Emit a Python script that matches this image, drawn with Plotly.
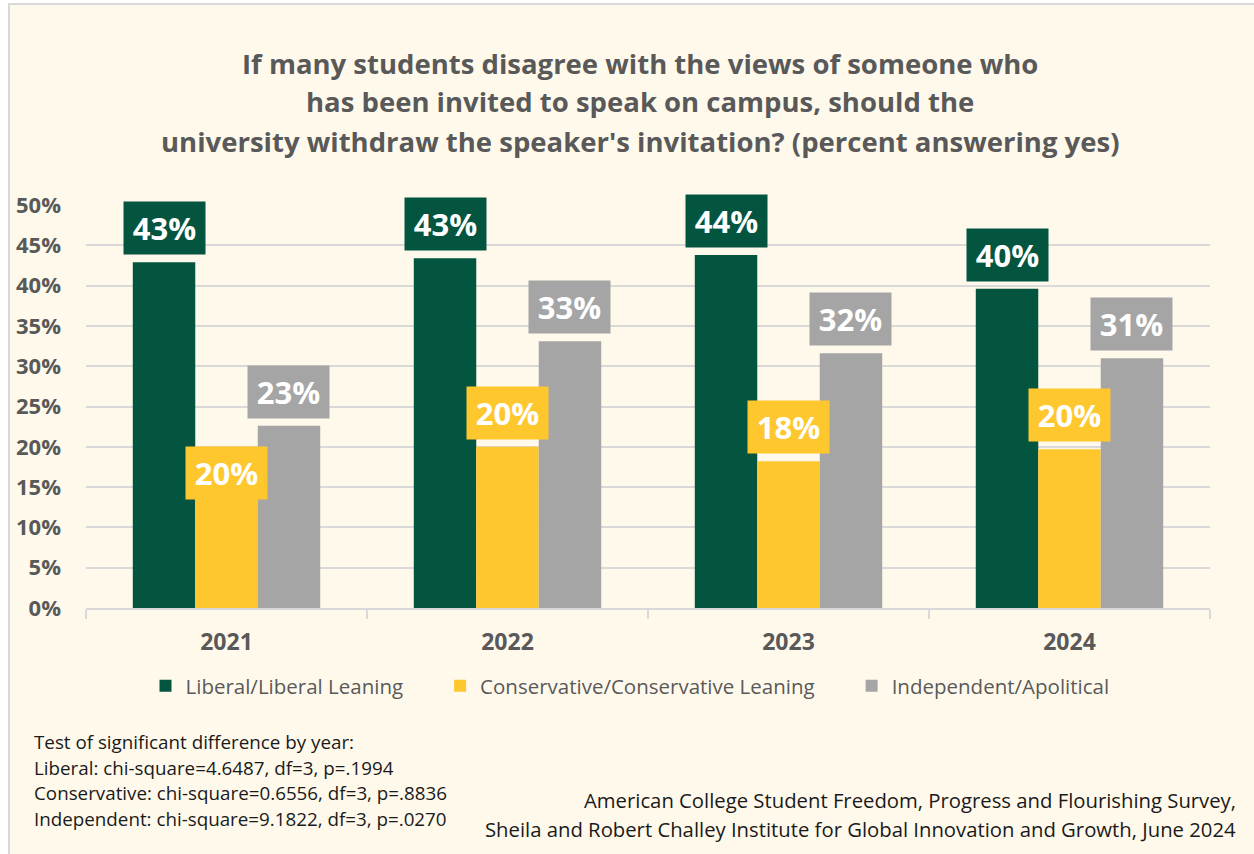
import plotly.graph_objects as go

# Survey results: percent answering "yes", by political identification
years = ["2021", "2022", "2023", "2024"]
liberal = [42.9, 43.4, 43.8, 39.6]
conservative = [20.0, 20.0, 18.2, 19.7]
independent = [22.6, 33.1, 31.6, 31.0]

series_names = [
    "Liberal/Liberal Leaning",
    "Conservative/Conservative Leaning",
    "Independent/Apolitical",
]
series_values = [liberal, conservative, independent]
series_colors = ["#04553F", "#FFC72E", "#A5A5A5"]

title_lines = [
    "If many students disagree with the views of someone who",
    "has been invited to speak on campus, should the",
    "university withdraw the speaker's invitation? (percent answering yes)",
]
note_lines = [
    "Test of significant difference by year:",
    "Liberal: chi-square=4.6487, df=3, p=.1994",
    "Conservative: chi-square=0.6556, df=3, p=.8836",
    "Independent: chi-square=9.1822, df=3, p=.0270",
]
source_lines = [
    "American College Student Freedom, Progress and Flourishing Survey,",
    "Sheila and Robert Challey Institute for Global Innovation and Growth, June 2024",
]

# ---- layout geometry (pixels) ----
W, H = 1254, 854
L, R, T, B = 86, 44, 205, 246
PW, PH = W - L - R, H - T - B
BG = "#FFF9EC"
GRID = "#D9D9D9"
TXT = "#595959"
FONT = "Open Sans"


def px_x(p):
    return (p - L) / PW


def px_y(p):
    return (H - B - p) / PH


BARGAP = 0.333
bar_w = (1 - BARGAP) / len(series_names)

fig = go.Figure()
for name, vals, col in zip(series_names, series_values, series_colors):
    fig.add_trace(go.Bar(
        x=years, y=vals, name=name + "\u00a0" * 6,
        marker=dict(color=col, line=dict(width=0)),
        hoverinfo="skip",
    ))

annotations = []

# value boxes above each bar; one sits over the top of its bar
inside_top = {("2021", 1)}
for si, (vals, col) in enumerate(zip(series_values, series_colors)):
    offset = (si - 1) * bar_w
    for ci, (yr, v) in enumerate(zip(years, vals)):
        inside = (yr, si) in inside_top
        annotations.append(dict(
            x=ci + offset, y=v, xref="x", yref="y",
            text=f"<b>{v:.0f}%</b>", showarrow=False,
            font=dict(family=FONT, size=31, color="white"),
            bgcolor=col, borderpad=5, width=71,
            xanchor="center",
            yanchor="top" if inside else "bottom",
            yshift=1 if inside else 7,
        ))

# title
for i, line in enumerate(title_lines):
    annotations.append(dict(
        x=px_x(640), y=px_y(63 + 39 * i), xref="paper", yref="paper",
        text=f"<b>{line}</b>", showarrow=False,
        font=dict(family=FONT, size=27.5, color=TXT),
        xanchor="center", yanchor="middle",
    ))

# significance notes
for i, line in enumerate(note_lines):
    annotations.append(dict(
        x=px_x(32), y=px_y(742 + 25.7 * i), xref="paper", yref="paper",
        text=line, showarrow=False,
        font=dict(family=FONT, size=18.8, color="#1A1A1A"),
        xanchor="left", yanchor="middle",
    ))

# source
for i, line in enumerate(source_lines):
    annotations.append(dict(
        x=px_x(1238), y=px_y(800 + 29 * i), xref="paper", yref="paper",
        text=line, showarrow=False,
        font=dict(family=FONT, size=20.3, color="#1A1A1A"),
        xanchor="right", yanchor="middle",
    ))

# cream chart panel with a thin border
shapes = [dict(
    type="rect", xref="paper", yref="paper", layer="below",
    x0=px_x(9), x1=px_x(W + 20), y0=px_y(H + 20), y1=px_y(4),
    fillcolor=BG, line=dict(color=GRID, width=2),
)]

fig.update_layout(
    width=W, height=H,
    margin=dict(l=L, r=R, t=T, b=B, autoexpand=False),
    paper_bgcolor="white", plot_bgcolor="rgba(0,0,0,0)",
    barmode="group", bargap=BARGAP, bargroupgap=0,
    font=dict(family=FONT, color=TXT),
    annotations=annotations, shapes=shapes,
    showlegend=True,
    legend=dict(
        orientation="h", x=px_x(646), xanchor="center",
        y=px_y(686), yanchor="middle",
        font=dict(family=FONT, size=20.5, color=TXT),
        bgcolor="rgba(0,0,0,0)", traceorder="normal",
    ),
)
fig.update_xaxes(
    type="category", showline=True, linecolor=GRID, linewidth=2,
    ticks="outside", tickson="boundaries", ticklen=9, tickcolor=GRID, tickwidth=2,
    tickfont=dict(family=FONT, size=23, color=TXT),
    ticklabelstandoff=12, showgrid=False,
    tickprefix="<b>", ticksuffix="</b>",
)
fig.update_yaxes(
    range=[0, 50], dtick=5, ticksuffix="%", tickprefix="<b>",
    showgrid=True, gridcolor=GRID, gridwidth=2, zeroline=False,
    tickfont=dict(family=FONT, size=22, color=TXT),
    ticklabelstandoff=24, showline=False,
)

fig.write_html("out.html")
